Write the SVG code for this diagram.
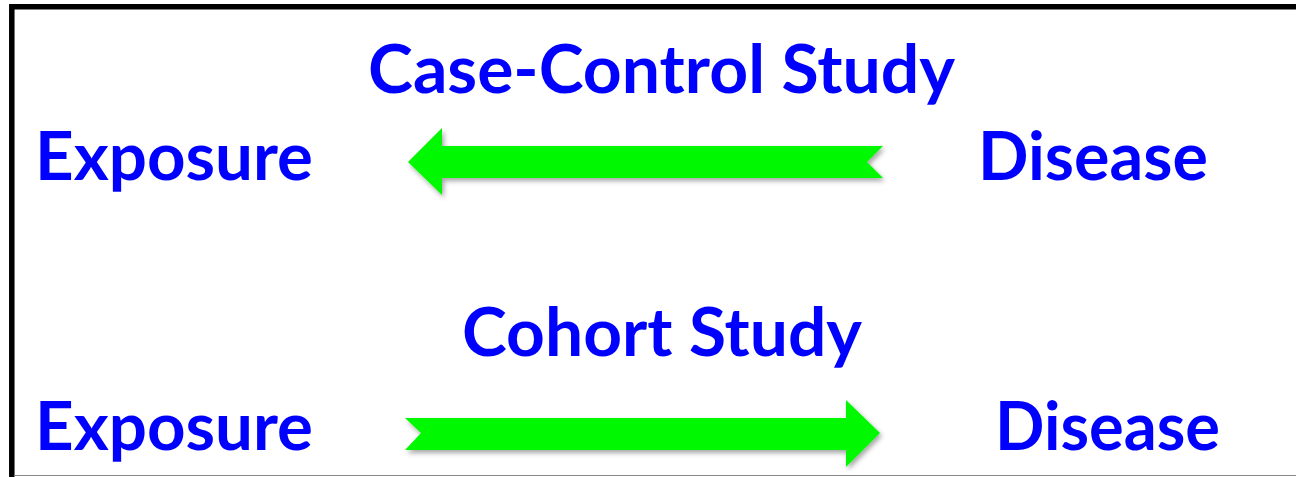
<svg xmlns="http://www.w3.org/2000/svg" width="1296" height="477" viewBox="0 0 1296 477">
<style>
.lbl{font-family:Lato,"Open Sans","Liberation Sans",sans-serif;font-weight:700;font-size:66px;fill:#0000FF}
.arrow{fill:#00F800;filter:url(#sh)}
</style>
<defs>
<filter id="sh" x="-5%" y="-30%" width="110%" height="160%">
<feDropShadow dx="2" dy="3" stdDeviation="2.5" flood-color="#000" flood-opacity="0.35"/>
</filter>
</defs>
<rect width="1296" height="477" fill="#fff"/>
<g id="frame">
<path d="M11.8 477 V6.7 H1296" fill="none" stroke="#000" stroke-width="5.5"/>
<line x1="14" y1="475.5" x2="1296" y2="475.5" stroke="#888" stroke-width="1.2"/>
</g>
<g id="title-case-control"><text class="lbl" x="368" y="93" textLength="587" lengthAdjust="spacingAndGlyphs">Case-Control Study</text></g>
<g id="exposure-1"><text class="lbl" x="35" y="180" textLength="278" lengthAdjust="spacingAndGlyphs">Exposure</text></g>
<g id="disease-1"><text class="lbl" x="978" y="180" textLength="230" lengthAdjust="spacingAndGlyphs">Disease</text></g>
<g id="title-cohort"><text class="lbl" x="462" y="356" textLength="400" lengthAdjust="spacingAndGlyphs">Cohort Study</text></g>
<g id="exposure-2"><text class="lbl" x="35" y="450" textLength="278" lengthAdjust="spacingAndGlyphs">Exposure</text></g>
<g id="disease-2"><text class="lbl" x="995" y="450" textLength="225" lengthAdjust="spacingAndGlyphs">Disease</text></g>
<g id="connectors">
<polygon class="arrow" points="408,162 442,128 442,146 883,146 867,162 883,178 442,178 442,195"/>
<polygon class="arrow" points="880,433 846,400 846,418 405,418 421,433 405,450 846,450 846,467"/>
</g>
</svg>
